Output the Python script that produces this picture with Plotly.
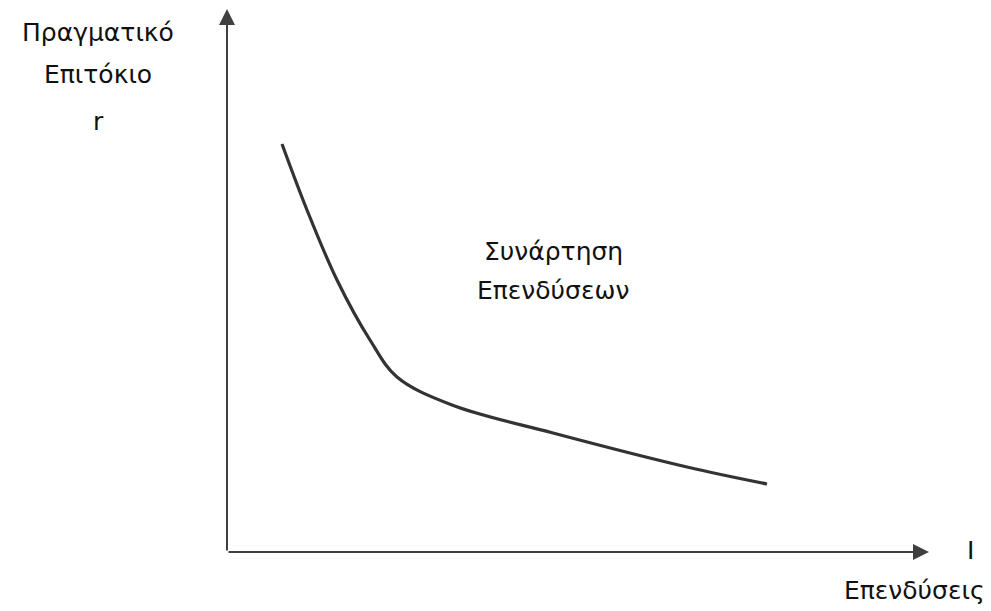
import plotly.graph_objects as go

# Investment function curve (I = investment, r = real interest rate), arbitrary units
invest = [55, 80, 110, 143, 170, 225, 326, 460, 540]
rate = [408, 342, 272, 212, 175, 147, 119, 85, 68]

x_max = 702   # length of horizontal axis
y_max = 543   # length of vertical axis

fig = go.Figure()
fig.add_trace(go.Scatter(
    x=invest, y=rate, mode="lines",
    line=dict(color="#333333", width=3.2, shape="spline", smoothing=1.0),
    hoverinfo="skip", showlegend=False,
))

font = dict(family="DejaVu Sans, sans-serif", size=25, color="#111111")
arrow_color = "#404040"
annotations = [
    dict(x=0, y=y_max, ax=0, ay=0, xref="x", yref="y", axref="x", ayref="y",
         showarrow=True, arrowhead=2, arrowwidth=2, arrowsize=1.6,
         arrowcolor=arrow_color, text=""),
    dict(x=x_max, y=0, ax=0, ay=0, xref="x", yref="y", axref="x", ayref="y",
         showarrow=True, arrowhead=2, arrowwidth=2, arrowsize=1.6,
         arrowcolor=arrow_color, text=""),
    dict(x=-129, y=520, text="Πραγματικό", showarrow=False, font=font),
    dict(x=-129, y=478, text="Επιτόκιο", showarrow=False, font=font),
    dict(x=-129, y=431, text="r", showarrow=False, font=font),
    dict(x=326, y=301, text="Συνάρτηση", showarrow=False, font=font),
    dict(x=326, y=262, text="Επενδύσεων", showarrow=False, font=font),
    dict(x=743, y=2, text="I", showarrow=False, font=font),
    dict(x=760, y=-38, text="Επενδύσεις", showarrow=False, font=font,
         xanchor="right"),
]

# the page body has an 8px margin, so the figure is slightly smaller than the window
fig.update_layout(
    width=983, height=603,
    margin=dict(l=0, r=0, t=0, b=0),
    paper_bgcolor="white", plot_bgcolor="white",
    xaxis=dict(range=[-219, 764], visible=False, fixedrange=True),
    yaxis=dict(range=[-59, 544], visible=False, fixedrange=True),
    annotations=annotations,
)

fig.write_html("out.html")
